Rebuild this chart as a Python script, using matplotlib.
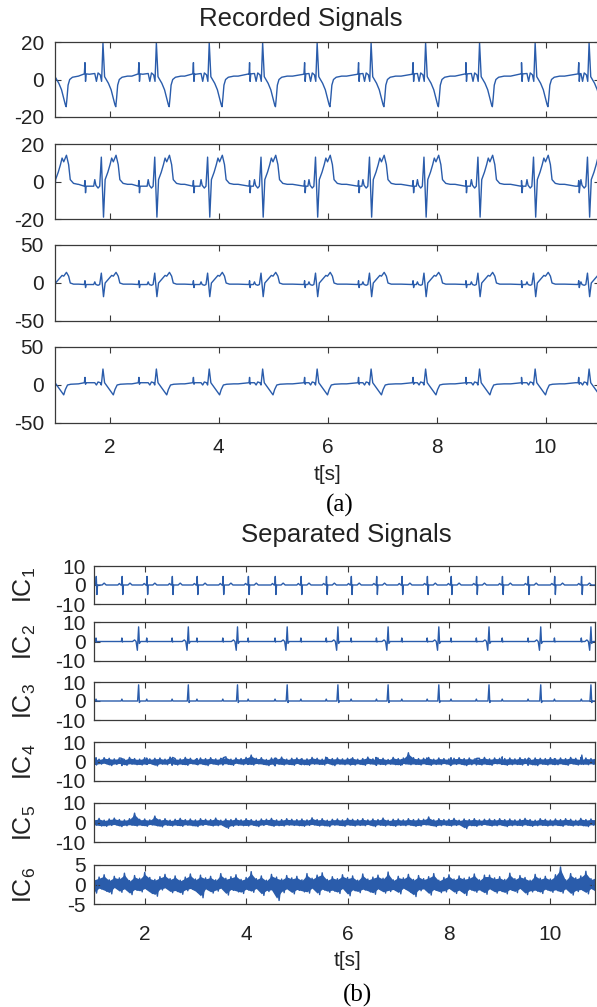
import numpy as np
import matplotlib.pyplot as plt

plt.rcParams['font.family'] = ['Liberation Sans', 'DejaVu Sans']
plt.rcParams['mathtext.default'] = 'regular'
plt.rcParams['axes.unicode_minus'] = False

# beat times (seconds)
maternal_r = [0.97, 1.88, 2.86, 3.83, 4.81, 5.81, 6.80, 7.80, 8.79, 9.81, 10.80, 11.78]
fetal_r = [0.53, 1.04, 1.55, 2.04, 2.54, 3.03, 3.54, 4.04, 4.57, 5.08, 5.58, 6.07,
           6.57, 7.07, 7.57, 8.04, 8.54, 9.05, 9.56, 10.08, 10.61, 11.1]

# recorded channels: maternal beat shape (offset from R peak, value)
ch1_off = [-0.45, -0.25, -0.15, -0.12, -0.09, -0.05, -0.025, 0.0, 0.03, 0.10, 0.15, 0.19, 0.22, 0.235, 0.25, 0.27, 0.30, 0.35, 0.45]
ch1_val = [1.8, 2.8, 3.2, -1.0, 3.5, 2.5, -1.0, 19.5, 1.5, -2.0, -5.5, -10.0, -13.5, -14.5, -10.0, -3.0, 0.0, 1.2, 1.8]
ch2_off = [-0.45, -0.25, -0.17, -0.15, -0.13, -0.09, -0.06, -0.03, 0.01, 0.04, 0.09, 0.13, 0.16, 0.19, 0.24, 0.28, 0.31, 0.37, 0.45]
ch2_val = [-1.5, -2.5, -2.5, 1.0, -2.0, -3.5, -2.5, 13.0, -19.0, 1.0, 5.0, 9.0, 12.5, 10.5, 14.0, 9.0, 1.0, -1.0, -1.5]
ch3_off = [-0.45, -0.25, -0.17, -0.15, -0.13, -0.09, -0.06, -0.03, 0.01, 0.04, 0.10, 0.16, 0.19, 0.24, 0.28, 0.31, 0.37, 0.45]
ch3_val = [-1.5, -2.0, -2.0, 1.5, -2.0, -3.0, -2.0, 13.0, -18.0, 0.0, 5.0, 10.0, 9.0, 14.0, 9.0, 0.0, -1.5, -1.5]
ch4_off = [-0.45, -0.25, -0.15, -0.12, -0.09, -0.05, -0.03, 0.0, 0.03, 0.08, 0.14, 0.19, 0.22, 0.26, 0.32, 0.45]
ch4_val = [1.5, 3.0, 3.0, 0.0, 4.0, 3.0, 0.0, 21.0, 3.0, -2.0, -8.0, -13.0, -6.0, 0.0, 1.0, 1.5]

# fetal spike seen in the recorded channels
spike_off = [-0.012, 0.0, 0.01, 0.022]
ch1_spike = [3.0, 9.0, -1.0, 3.0]
ch2_spike = [-2.5, 0.5, -6.0, -2.5]
ch3_spike = [-2.0, 3.0, -6.0, -2.0]
ch4_spike = [3.0, 10.0, 1.0, 3.0]

# separated components
ic1_off = [-0.24, -0.08, -0.05, -0.02, -0.005, 0.005, 0.018, 0.03, 0.12, 0.16, 0.20, 0.24]
ic1_val = [0.0, 0.0, 0.8, 0.0, 0.0, 4.5, -5.0, 0.0, 0.0, 1.0, 0.0, 0.0]
ic2_off = [-0.45, -0.12, -0.08, -0.05, -0.025, 0.0, 0.015, 0.04, 0.45]
ic2_val = [0.0, 0.0, 0.8, 0.0, -4.5, 7.5, -1.0, 0.0, 0.0]
ic2_fet_off = [-0.01, 0.0, 0.01, 0.02]
ic2_fet_val = [0.0, 1.8, -0.3, 0.0]
ic3_off = [-0.45, -0.02, 0.0, 0.015, 0.03, 0.45]
ic3_val = [0.0, 0.0, 8.5, -0.8, 0.0, 0.0]
ic3_fet_off = [-0.015, 0.0, 0.015]
ic3_fet_val = [0.0, 1.0, 0.0]
ic4_dip_off = [-0.01, 0.0, 0.01]
ic4_dip_val = [0.0, -6.0, 0.0]

# noisy components, sampled every 0.05 s from t = 1
# IC4 / IC5 in units of 0.15, IC6 in units of 0.1
ic4_noise = [10, -12, 8, -9, 13, -7, 11, -14, 9, -10, 12, -8, 7, -13, 14, -9, 10, -11, 8, -12,
             13, -10, 9, -8, 11, -15, 12, -9, 8, -11, 15, -7, 10, -12, 9, -10, 14, -13, 11, -8,
             7, -11, 12, -9, 10, -14, 13, -8, 9, -12, 11, -10, 16, -9, 8, -13, 12, -7, 10, -11,
             14, -9, 22, -12, 11, -8, 13, -10, 7, -14, 12, -11, 10, -9, 15, -12, 8, -10, 11, -13,
             12, -8, 10, -11, 9, -13, 14, -9, 11, -10, 8, -12, 13, -7, 10, -14, 12, -9, 9, -11,
             11, -10, 13, -12, 8, -9, 10, -13, 15, -8, 9, -11, 12, -10, 11, -12, 7, -9, 14, -11,
             10, -13, 12, -8, 30, -11, 13, -10, 10, -12, 11, -9, 14, -13, 8, -10, 12, -11, 10, -8,
             9, -12, 11, -10, 13, -9, 10, -14, 12, -11, 8, -9, 11, -12, 14, -10, 9, -13, 12, -8,
             11, -9, 10, -13, 12, -11, 9, -10, 13, -12, 10, -8, 8, -11, 12, -14, 11, -9, 10, -12,
             13, -10, 9, -11, 12, -9, 10, -13, 14, -8, 11, -12, 8, -10, 12, -11, 10, -9, 13, -12]
ic5_noise = [11, -9, 14, -12, 8, -13, 12, -10, 15, -8, 10, -14, 9, -11, 13, -9, 32, -12, 11, -10,
             12, -13, 9, -8, 22, -11, 10, -15, 13, -9, 8, -12, 11, -10, 14, -13, 10, -9, 12, -11,
             9, -14, 13, -10, 11, -8, 10, -12, 15, -11, 8, -9, 12, -20, 10, -13, 14, -10, 9, -11,
             13, -12, 10, -9, 8, -14, 12, -10, 11, -8, 14, -13, 9, -11, 10, -12, 13, -9, 11, -10,
             10, -11, 12, -13, 9, -10, 16, -8, 10, -12, 13, -11, 8, -14, 11, -9, 12, -10, 9, -13,
             14, -9, 11, -12, 10, -10, 13, -11, 9, -8, 12, -14, 10, -9, 15, -12, 8, -10, 11, -13,
             12, -10, 9, -11, 13, -9, 10, -13, 12, -12, 11, -8, 19, -10, 9, -14, 13, -11, 10, -9,
             11, -12, 14, -10, 8, -9, 12, -21, 10, -11, 13, -13, 9, -10, 11, -8, 12, -12, 10, -11,
             13, -9, 10, -14, 12, -11, 9, -10, 11, -12, 14, -9, 10, -13, 8, -11, 13, -10, 11, -12,
             9, -11, 12, -10, 10, -13, 13, -9, 11, -12, 8, -10, 14, -11, 10, -14, 12, -9, 11, -10]
ic6_noise = [14, -22, 19, -11, 25, -17, 12, -24, 21, -9, 17, -20, 29, -13, 10, -26, 23, -15, 16, -19,
             31, -12, 18, -23, 13, -30, 20, -14, 26, -10, 15, -21, 22, -18, 11, -25, 19, -16, 27, -12,
             14, -20, 24, -34, 17, -13, 21, -22, 12, -17, 28, -11, 16, -27, 20, -15, 25, -19, 13, -23,
             18, -14, 33, -20, 15, -12, 22, -28, 11, -18, 26, -16, 19, -41, 14, -21, 23, -13, 17, -24,
             21, -15, 12, -19, 28, -22, 16, -11, 24, -26, 30, -14, 13, -20, 20, -17, 15, -23, 25, -12,
             18, -29, 22, -16, 11, -21, 27, -14, 14, -19, 19, -25, 24, -13, 16, -22, 32, -18, 12, -15,
             21, -24, 17, -11, 26, -20, 13, -31, 23, -16, 15, -13, 20, -27, 28, -15, 11, -21, 18, -19,
             25, -12, 14, -23, 22, -17, 16, -28, 19, -14, 27, -20, 12, -16, 24, -25, 24, -13, 17, -22,
             20, -18, 13, -24, 29, -15, 15, -21, 23, -12, 18, -26, 11, -19, 26, -17, 16, -23, 21, -14,
             14, -20, 25, -16, 45, -22, 12, -13, 28, -27, 17, -18, 22, -15, 34, -24, 15, -12, 20, -21]
noise_units = [0.15, 0.15, 0.1]

LINE = '#2a5cab'
EDGE = '#3a3a3a'
W, H = 597, 1007


def build(beats, offs, vals, spikes=(), s_offs=(), s_vals=()):
    t, v = [], []
    for b in beats:
        t += [b + o for o in offs]
        v += list(vals)
    for s in spikes:
        t += [s + o for o in s_offs]
        v += list(s_vals)
    t = np.array(t)
    v = np.array(v)
    order = np.argsort(t, kind='stable')
    return t[order], v[order]


# fetal spikes that show before each maternal R in the recorded leads
pre_spikes = [f for f in fetal_r if any(-0.42 < f - r < -0.15 for r in maternal_r)]

fig = plt.figure(figsize=(W / 100, H / 100), dpi=100)


def add_axes(left, top, right, bottom):
    ax = fig.add_axes([left / W, 1 - bottom / H, (right - left) / W, (bottom - top) / H])
    for sp in ax.spines.values():
        sp.set_color(EDGE)
        sp.set_linewidth(0.9)
    ax.tick_params(direction='in', top=True, right=True, length=4, width=0.8,
                   colors=EDGE, labelcolor='#222222', labelsize=15)
    return ax


recorded = [
    (ch1_off, ch1_val, ch1_spike, 20, (42, 117)),
    (ch2_off, ch2_val, ch2_spike, 20, (144, 219)),
    (ch3_off, ch3_val, ch3_spike, 50, (245, 321)),
    (ch4_off, ch4_val, ch4_spike, 50, (347, 423)),
]
for i, (offs, vals, spk, lim, (top, bot)) in enumerate(recorded):
    ax = add_axes(55, top, 600, bot)
    t, v = build(maternal_r, offs, vals, pre_spikes, spike_off, spk)
    ax.plot(t, v, color=LINE, lw=1.0)
    ax.set_xlim(1, 11)
    ax.set_ylim(-lim, lim)
    ax.set_yticks([-lim, 0, lim])
    ax.set_xticks([2, 4, 6, 8, 10])
    ax.tick_params(axis='y', pad=8)
    ax.tick_params(axis='x', pad=11)
    if i < 3:
        ax.set_xticklabels([])

noise_t = np.linspace(1.0, 10.95, len(ic6_noise))
n4, n5, n6 = [np.array(n) * u for n, u in zip([ic4_noise, ic5_noise, ic6_noise], noise_units)]
noises = [None, None, None, n4, n5, n6]
components = [
    build(fetal_r, ic1_off, ic1_val),
    build(maternal_r, ic2_off, ic2_val, fetal_r, ic2_fet_off, ic2_fet_val),
    build(maternal_r, ic3_off, ic3_val, fetal_r, ic3_fet_off, ic3_fet_val),
    build(list(noise_t), [0.0], n4, fetal_r, ic4_dip_off, ic4_dip_val),
    build(list(noise_t), [0.0], n5),
    build(list(noise_t), [0.0], n6),
]
ic_lims = [10, 10, 10, 10, 10, 5]
ic_rows = [(566, 604), (622, 661), (682, 720), (742, 781), (803, 842), (865, 904)]
for i, ((t, v), lim, (top, bot)) in enumerate(zip(components, ic_lims, ic_rows)):
    ax = add_axes(94, top, 595, bot)
    if noises[i] is not None:
        # solid core of the noise band: upper samples against lower samples
        nz = noises[i]
        ax.fill_between(noise_t[0::2], nz[0::2] * 0.85, nz[1::2] * 0.85,
                        color=LINE, lw=0)
    ax.plot(t, v, color=LINE, lw=1.0)
    ax.set_xlim(1, 10.88)
    ax.set_ylim(-lim, lim)
    ax.set_yticks([-lim, 0, lim])
    ax.set_xticks([2, 4, 6, 8, 10])
    ax.tick_params(axis='y', pad=6)
    ax.tick_params(axis='x', pad=15)
    if i < 5:
        ax.set_xticklabels([])
    fig.text(25 / W, 1 - (top + bot) / 2 / H, 'IC$_{%d}$' % (i + 1), rotation=90,
             ha='center', va='center', fontsize=18, color='#222222')

fig.text(301 / W, 1 - 19 / H, 'Recorded Signals', ha='center', va='center', fontsize=18.5, color='#222222')
fig.text(327 / W, 1 - 475 / H, 't[s]', ha='center', va='center', fontsize=15, color='#222222')
fig.text(340 / W, 1 - 505 / H, '(a)', ha='center', va='center', fontsize=18, family='Liberation Serif')
fig.text(346 / W, 1 - 535 / H, 'Separated Signals', ha='center', va='center', fontsize=18.5, color='#222222')
fig.text(348 / W, 1 - 960 / H, 't[s]', ha='center', va='center', fontsize=15, color='#222222')
fig.text(357 / W, 1 - 995 / H, '(b)', ha='center', va='center', fontsize=18, family='Liberation Serif')

fig.savefig('out.png', dpi=100)
